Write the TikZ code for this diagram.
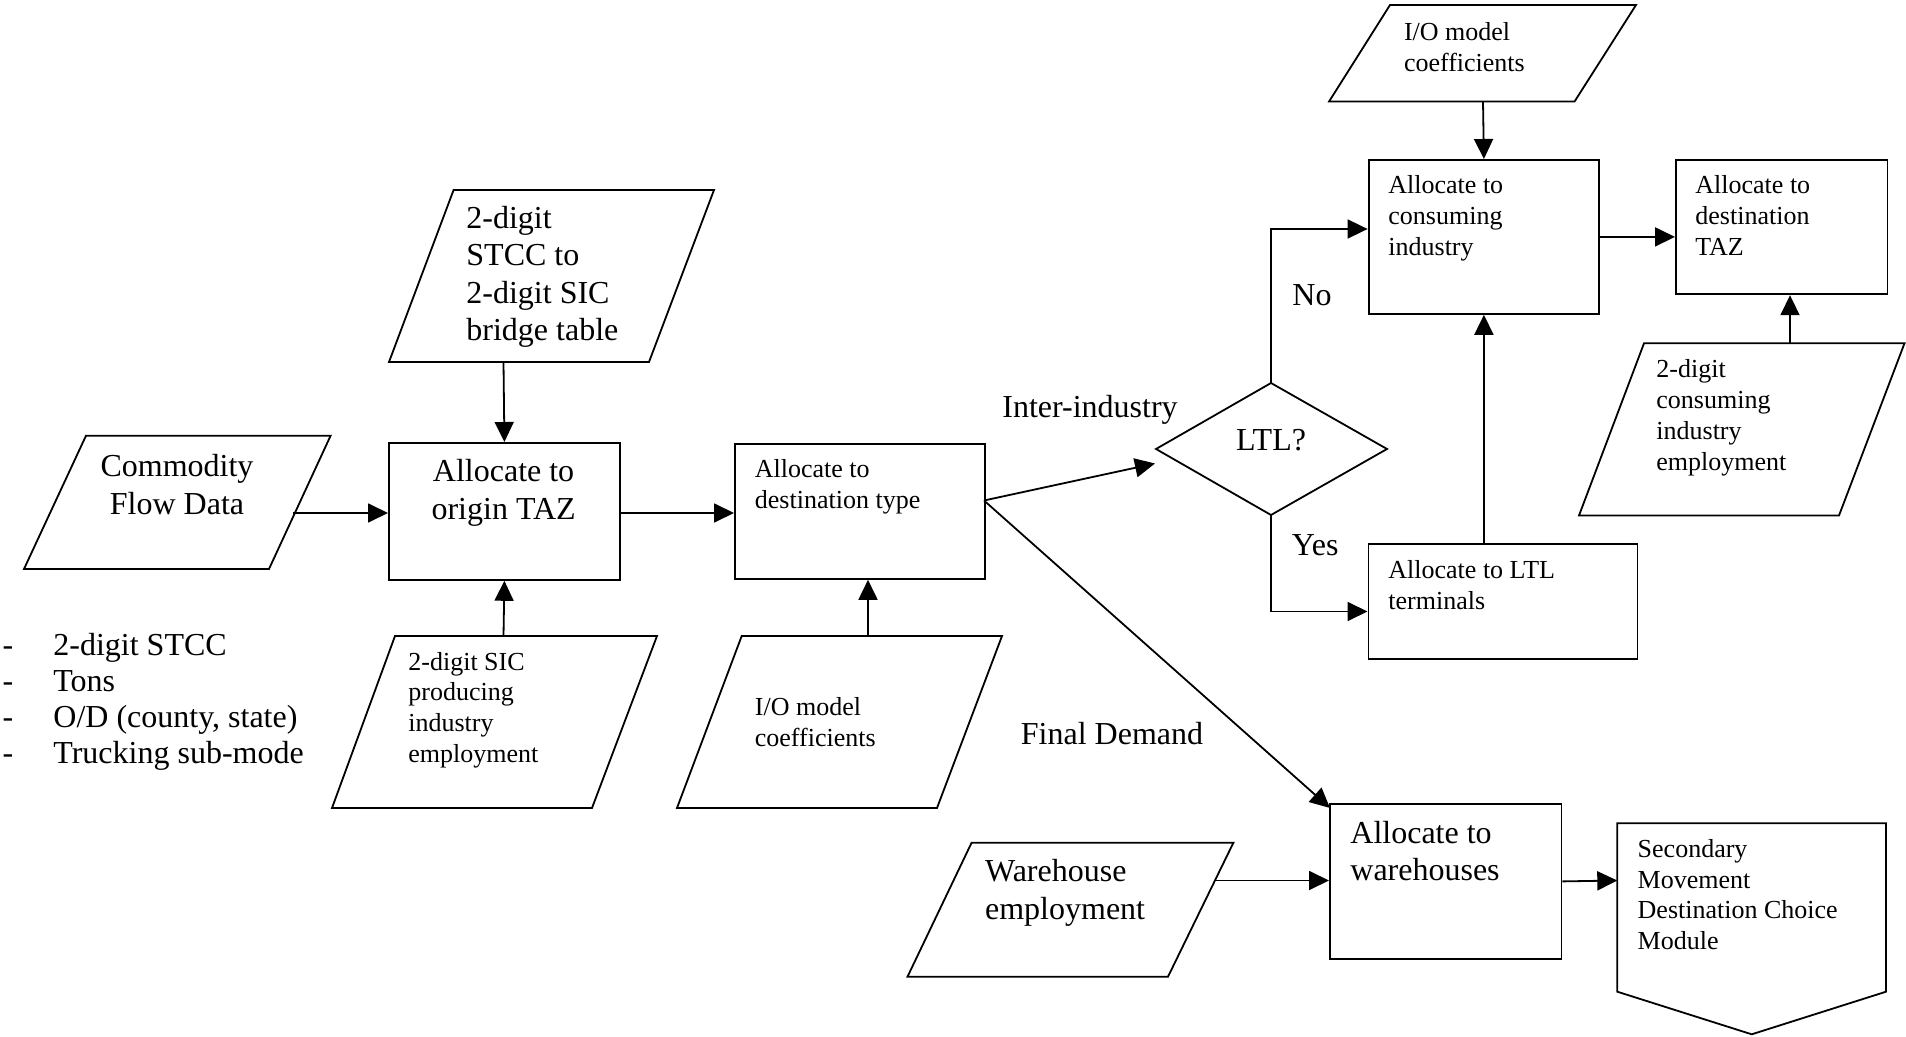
\documentclass[tikz,border=0pt]{standalone}
\usepackage{fontspec}
\setmainfont{Liberation Serif}
\usetikzlibrary{arrows.meta,calc}
\newcommand{\bigtxt}{\fontsize{16}{18.75}\selectfont}
\newcommand{\listtxt}{\fontsize{16}{18.15}\selectfont}
\newcommand{\smalltxt}{\fontsize{13}{15.4}\selectfont}
\newcommand{\ltext}[1]{\begin{tabular}[t]{@{}l@{}}#1\end{tabular}}
\newcommand{\ctext}[1]{\begin{tabular}[t]{@{}c@{}}#1\end{tabular}}
\begin{document}
\begin{tikzpicture}[x=0.5pt,y=-0.5pt,
  box/.style={draw, line width=0.9pt, inner sep=0pt, anchor=north west},
  shp/.style={draw, line width=0.9pt, line join=miter},
  conn/.style={line width=0.9pt, -{Triangle[length=10pt,width=9.5pt]}},
  big/.style={font=\bigtxt, inner sep=0pt},
  lst/.style={font=\listtxt, inner sep=0pt},
  small/.style={font=\smalltxt, inner sep=0pt}]
\useasboundingbox (0,0) rectangle (1906,1037);

% ---------- rectangles ----------
\node[box, minimum width=115.5pt, minimum height=68.5pt] (origin) at (388,442) {};
\node[box, minimum width=125pt, minimum height=67.5pt] (desttype) at (734,443) {};
\node[box, minimum width=115pt, minimum height=77pt] (consuming) at (1368,159) {};
\node[box, minimum width=105.75pt, minimum height=67.2pt] (desttaz) at (1675,159) {};
\node[box, minimum width=134.5pt, minimum height=57.5pt] (ltlterm) at (1367.5,542.7) {};
\node[box, minimum width=115.8pt, minimum height=77.5pt] (warehouses) at (1329,803) {};

% ---------- parallelograms ----------
\draw[shp] (86,435.7) -- (330.6,435.7) -- (269,569) -- (24,569) -- cycle;
\draw[shp] (453.6,190) -- (714,190) -- (649,362) -- (389,362) -- cycle;
\draw[shp] (395,636) -- (657,636) -- (592,808) -- (332,808) -- cycle;
\draw[shp] (741.7,636) -- (1002,636) -- (937,808) -- (677,808) -- cycle;
\draw[shp] (1390,5) -- (1636,5) -- (1574.5,101.6) -- (1329,101.6) -- cycle;
\draw[shp] (1644,343.3) -- (1904.5,343.3) -- (1839,515.5) -- (1579,515.5) -- cycle;
\draw[shp] (971.6,842.7) -- (1233.4,842.7) -- (1168,976.7) -- (907.5,976.7) -- cycle;

% ---------- diamond ----------
\coordinate (ltlL) at (1156,449);
\coordinate (ltlT) at (1271,383);
\coordinate (ltlR) at (1387,449);
\coordinate (ltlB) at (1271,515);
\draw[shp] (ltlL) -- (ltlT) -- (ltlR) -- (ltlB) -- cycle;

% ---------- off-page connector (pentagon) ----------
\draw[shp] (1617.3,823.3) -- (1886,823.3) -- (1886,991.7) -- (1751.7,1034.3) -- (1617.3,991.7) -- cycle;

% ---------- connection points ----------
\coordinate (cfout) at (292.5,513);
\coordinate (brout) at (503.5,362);
\coordinate (sicout) at (503.5,636);
\coordinate (iobout) at (868,636);
\coordinate (dtout) at (984,500.5);
\coordinate (ltlin) at (1155,463.5);
\coordinate (whin) at (1330,808);
\coordinate (noin) at (1367.6,229);
\coordinate (yesin) at (1367.5,611.5);
\coordinate (iotout) at (1483,101.6);
\coordinate (ceout) at (1790,343.3);
\coordinate (weout) at (1215,880.5);
\coordinate (secin) at (1617.3,880.5);

% ---------- connectors ----------
\draw[conn] (cfout) -- (cfout -| origin.west);
\draw[conn] (brout) -- (origin.north);
\draw[conn] (sicout) -- (origin.south);
\draw[conn] (cfout -| origin.east) -- (cfout -| desttype.west);
\draw[conn] (iobout) -- (iobout |- desttype.south);
\draw[conn] (dtout) -- (ltlin);
\draw[conn] (dtout) -- (whin);
\draw[conn] (ltlT) |- (noin);
\draw[conn] (ltlB) |- (yesin);
\draw[conn] (consuming.south |- ltlterm.north) -- (consuming.south);
\draw[conn] (iotout) -- (consuming.north);
\draw[conn] (consuming.east) -- (consuming.east -| desttaz.west);
\draw[conn] (ceout) -- (ceout |- desttaz.south);
\draw[conn] (weout) -- (weout -| warehouses.west);
\draw[conn] (warehouses.east) -- (secin);

% ---------- large texts ----------
\node[big, anchor=base] (tcf) at (177,476.5) {\ctext{Commodity\\Flow Data}};
\node[big, anchor=base] (torigin) at (503.6,481.7) {\ctext{Allocate to\\origin TAZ}};
\node[big, anchor=base west] (tbridge) at (466,228.3) {\ltext{2-digit\\STCC to\\2-digit SIC\\bridge table}};
\node[big, anchor=base west] (twemp) at (984.7,881.7) {\ltext{Warehouse\\employment}};
\node[big, anchor=base west] (twh) at (1350,843.3) {\ltext{Allocate to\\warehouses}};
\node[lst, anchor=base] (tdash) at (8,655) {\ctext{-\\-\\-\\-}};
\node[lst, anchor=base west] (tlist) at (53,655) {\ltext{2-digit STCC\\Tons\\O/D (county, state)\\Trucking sub-mode}};
\node[big, anchor=base] (tinter) at (1090,417.3) {Inter-industry};
\node[big, anchor=base west] (tno) at (1292,306) {No};
\node[big, anchor=base west] (tyes) at (1291.5,555) {Yes};
\node[big, anchor=base] (tfinal) at (1112,744) {Final Demand};
\node[big, anchor=base] (tltl) at (1271,450.7) {LTL?};

% ---------- small texts ----------
\node[small, anchor=base west] (tdt) at (754.5,477.3) {\ltext{Allocate to\\destination type}};
\node[small, anchor=base west] (tlt) at (1388,578.3) {\ltext{Allocate to LTL\\terminals}};
\node[small, anchor=base west] (tcons) at (1388,194) {\ltext{Allocate to\\consuming\\industry}};
\node[small, anchor=base west] (ttaz) at (1695,194) {\ltext{Allocate to\\destination\\TAZ}};
\node[small, anchor=base west] (tiot) at (1403.6,40.5) {\ltext{I/O model\\coefficients}};
\node[small, anchor=base west] (tce) at (1656,378) {\ltext{2-digit\\consuming\\industry\\employment}};
\node[small, anchor=base west] (tsic) at (408,670) {\ltext{2-digit SIC\\producing\\industry\\employment}};
\node[small, anchor=base west] (tiob) at (754.5,715.5) {\ltext{I/O model\\coefficients}};
\node[small, anchor=base west] (tsec) at (1637.3,857.3) {\ltext{Secondary\\Movement\\Destination Choice\\Module}};
\end{tikzpicture}
\end{document}
